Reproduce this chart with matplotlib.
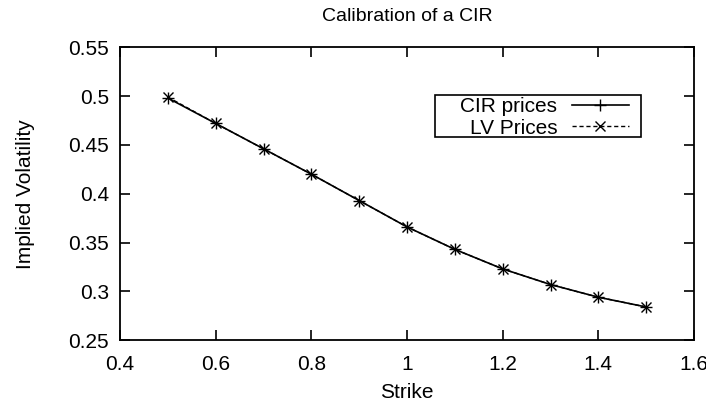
import numpy as np
import matplotlib
matplotlib.use('Agg')
import matplotlib.pyplot as plt
from matplotlib.patches import Rectangle

plt.rcParams['font.family'] = ['Liberation Sans', 'DejaVu Sans']

# Data
strike = [0.5, 0.6, 0.7, 0.8, 0.9, 1.0, 1.1, 1.2, 1.3, 1.4, 1.5]
cir_vol = [0.498, 0.472, 0.446, 0.420, 0.393, 0.366, 0.343, 0.323, 0.307, 0.294, 0.284]
lv_vol = [0.499, 0.472, 0.446, 0.420, 0.393, 0.366, 0.343, 0.323, 0.307, 0.294, 0.284]

fig = plt.figure(figsize=(7.06, 4.04), dpi=100)
ax = fig.add_axes([0.170, 0.158, 0.813, 0.725])

ax.plot(strike, cir_vol, color='black', lw=1.2, marker='+', ms=9, mew=1.0,
        label='CIR prices')
ax.plot(strike, lv_vol, color='black', lw=1.0, ls=(0, (3, 2)), marker='x', ms=7,
        mew=1.0, label='LV Prices')

ax.set_xlim(0.4, 1.6)
ax.set_ylim(0.25, 0.55)
ax.set_xticks(np.arange(0.4, 1.61, 0.2))
ax.set_xticklabels(['0.4', '0.6', '0.8', '1', '1.2', '1.4', '1.6'])
ax.set_yticks(np.arange(0.25, 0.551, 0.05))
ax.set_yticklabels(['0.25', '0.3', '0.35', '0.4', '0.45', '0.5', '0.55'])
ax.tick_params(direction='in', top=True, right=True, length=7, width=1.2,
               labelsize=15)
ax.tick_params(axis='x', pad=11)
ax.tick_params(axis='y', pad=8)
for s in ax.spines.values():
    s.set_linewidth(1.3)

ax.set_title('Calibration of a CIR', fontsize=14, pad=19)
ax.set_xlabel('Strike', fontsize=15, labelpad=6)
ax.set_ylabel('Implied Volatility', fontsize=15, labelpad=24)

# gnuplot style key: text right aligned, sample to the right, boxed
leg = ax.legend(loc='upper right', bbox_to_anchor=(0.887, 0.830), markerfirst=False,
                fontsize=15, frameon=False, handlelength=2.75, borderpad=0,
                labelspacing=0.12, handletextpad=0.7, borderaxespad=0)
for t in leg.get_texts():
    t.set_ha('right')
ax.add_patch(Rectangle((0.549, 0.693), 0.359, 0.143, transform=ax.transAxes,
                       fill=False, edgecolor='black', lw=1.2, zorder=5))

fig.savefig('out.png', dpi=100)
